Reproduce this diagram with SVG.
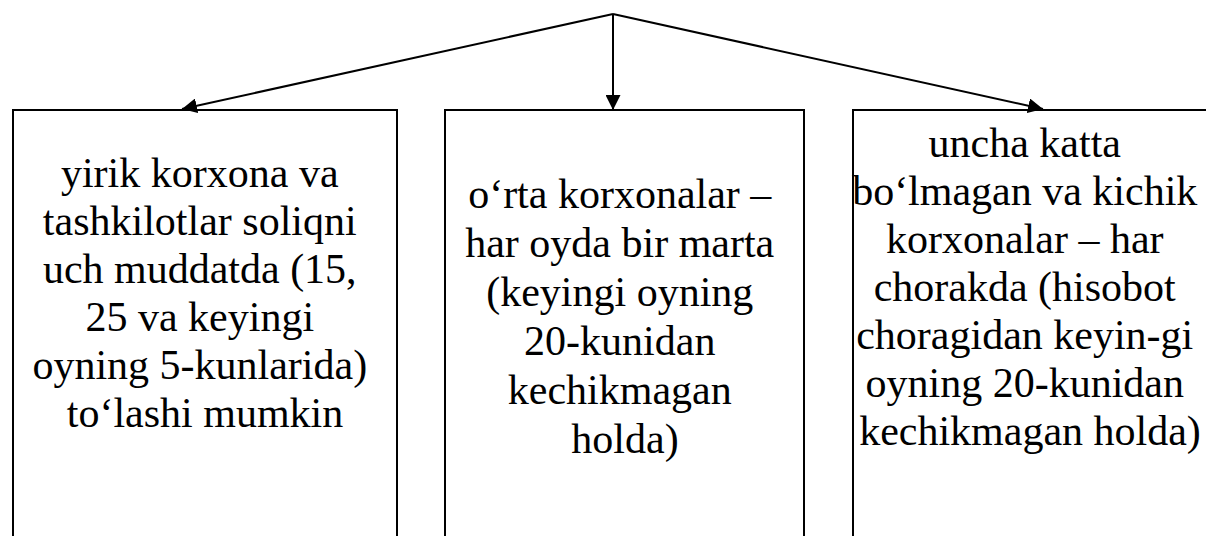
<svg xmlns="http://www.w3.org/2000/svg" width="1206" height="536" viewBox="0 0 1206 536">
<style>
.box{fill:#fff;stroke:#000;stroke-width:2}
.lbl{font-family:"Liberation Serif","Times New Roman",serif;font-size:42px;fill:#000;text-anchor:middle}
.con{stroke:#000;stroke-width:2;fill:none}
</style>
<defs>
<marker id="ah" viewBox="0 0 15 15" refX="15" refY="7.5" markerWidth="15" markerHeight="15" markerUnits="userSpaceOnUse" orient="auto">
<path d="M0,0 L15,7.5 L0,15 Z" fill="#000"/>
</marker>
</defs>
<rect width="1206" height="536" fill="#fff"/>
<g id="node1">
<rect class="box" x="13" y="110" width="384" height="440"/>
<text class="lbl">
<tspan x="205" y="187">yirik korxona va</tspan>
<tspan x="205" y="235">tashkilotlar soliqni</tspan>
<tspan x="205" y="283">uch muddatda (15,</tspan>
<tspan x="205" y="331">25 va keyingi</tspan>
<tspan x="205" y="379">oyning 5-kunlarida)</tspan>
<tspan x="205" y="427">to‘lashi mumkin</tspan>
</text>
</g>
<g id="node2">
<rect class="box" x="445" y="110" width="359" height="440"/>
<text class="lbl">
<tspan x="625" y="208">o‘rta korxonalar –</tspan>
<tspan x="625" y="257">har oyda bir marta</tspan>
<tspan x="625" y="306">(keyingi oyning</tspan>
<tspan x="625" y="355">20-kunidan</tspan>
<tspan x="625" y="404">kechikmagan</tspan>
<tspan x="625" y="453">holda)</tspan>
</text>
</g>
<g id="node3">
<rect class="box" x="853" y="110" width="362" height="440"/>
<text class="lbl">
<tspan x="1030" y="157">uncha katta</tspan>
<tspan x="1030" y="205">bo‘lmagan va kichik</tspan>
<tspan x="1030" y="253">korxonalar – har</tspan>
<tspan x="1030" y="301">chorakda (hisobot</tspan>
<tspan x="1030" y="349">choragidan keyin-gi</tspan>
<tspan x="1030" y="397">oyning 20-kunidan</tspan>
<tspan x="1030" y="445">kechikmagan holda)</tspan>
</text>
</g>
<g id="connectors">
<line class="con" x1="613" y1="14" x2="182" y2="109" marker-end="url(#ah)"/>
<line class="con" x1="613" y1="14" x2="613" y2="110" marker-end="url(#ah)"/>
<line class="con" x1="613" y1="14" x2="1043" y2="109" marker-end="url(#ah)"/>
</g>
</svg>
